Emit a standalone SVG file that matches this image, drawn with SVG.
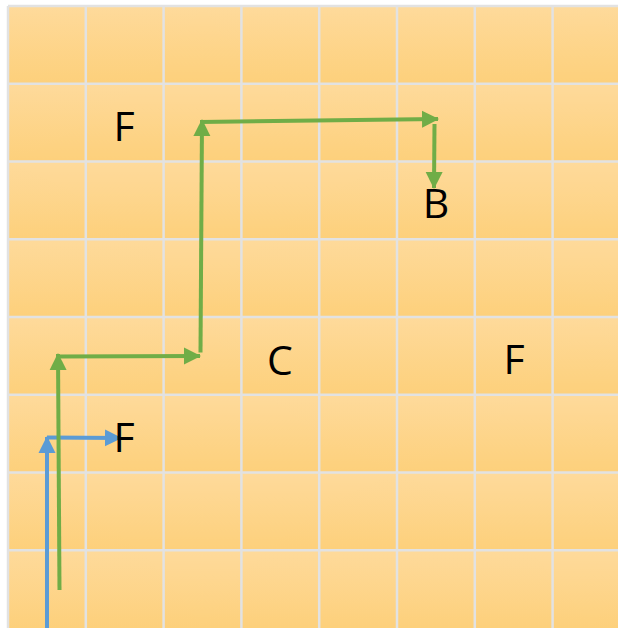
<svg xmlns="http://www.w3.org/2000/svg" width="618" height="628" viewBox="0 0 618 628">
<defs>
<linearGradient id="cellg" x1="0" y1="0" x2="0" y2="1">
<stop offset="0" stop-color="#FEDA9B"/>
<stop offset="1" stop-color="#FDD07B"/>
</linearGradient>
<pattern id="cells" x="8" y="6" width="77.8" height="77.75" patternUnits="userSpaceOnUse">
<rect x="0" y="0" width="77.8" height="77.75" fill="url(#cellg)"/>
</pattern>
<marker id="ag" markerWidth="18" markerHeight="18" refX="16" refY="9" orient="auto" markerUnits="userSpaceOnUse">
<path d="M0,0.5 L17,9 L0,17.5 z" fill="#70AD47"/>
</marker>
<marker id="ab" markerWidth="18" markerHeight="18" refX="16" refY="9" orient="auto" markerUnits="userSpaceOnUse">
<path d="M0,0.5 L17,9 L0,17.5 z" fill="#5B9BD5"/>
</marker>
</defs>
<style>
.grid line{stroke:#E2E2E2;stroke-width:2.5}
.lbl{font-family:"Open Sans","Liberation Sans",sans-serif;font-size:41px;fill:#000;text-anchor:middle}
.g{stroke:#70AD47;stroke-width:4;fill:none;marker-end:url(#ag)}
.b{stroke:#5B9BD5;stroke-width:4;fill:none;marker-end:url(#ab)}
</style>
<rect width="618" height="628" fill="#FFFFFF"/>
<g id="board">
<rect x="8" y="6" width="630" height="630" fill="url(#cells)"/>
<g class="grid">
<line x1="8" y1="6" x2="8" y2="628"/>
<line x1="85.8" y1="6" x2="85.8" y2="628"/>
<line x1="163.6" y1="6" x2="163.6" y2="628"/>
<line x1="241.4" y1="6" x2="241.4" y2="628"/>
<line x1="319.2" y1="6" x2="319.2" y2="628"/>
<line x1="397" y1="6" x2="397" y2="628"/>
<line x1="474.8" y1="6" x2="474.8" y2="628"/>
<line x1="552.6" y1="6" x2="552.6" y2="628"/>
<line x1="8" y1="6" x2="618" y2="6"/>
<line x1="8" y1="83.75" x2="618" y2="83.75"/>
<line x1="8" y1="161.5" x2="618" y2="161.5"/>
<line x1="8" y1="239.25" x2="618" y2="239.25"/>
<line x1="8" y1="317" x2="618" y2="317"/>
<line x1="8" y1="394.75" x2="618" y2="394.75"/>
<line x1="8" y1="472.5" x2="618" y2="472.5"/>
<line x1="8" y1="550.25" x2="618" y2="550.25"/>
</g>
</g>
<g id="connectors">
<line class="b" x1="47" y1="628" x2="47" y2="437"/>
<line class="b" x1="47" y1="437.5" x2="121" y2="438"/>
<line class="g" x1="59.5" y1="590" x2="58" y2="354"/>
<line class="g" x1="58" y1="356.5" x2="200" y2="356"/>
<line class="g" x1="200.5" y1="352.5" x2="202" y2="120"/>
<line class="g" x1="200" y1="122" x2="438" y2="119"/>
<line class="g" x1="434.5" y1="124" x2="434" y2="188"/>
</g>
<g id="node-f1"><text class="lbl" x="124" y="141">F</text></g>
<g id="node-b"><text class="lbl" x="436" y="218">B</text></g>
<g id="node-c"><text class="lbl" x="280" y="375">C</text></g>
<g id="node-f3"><text class="lbl" x="514" y="374">F</text></g>
<g id="node-f2"><text class="lbl" x="124" y="452">F</text></g>
</svg>
